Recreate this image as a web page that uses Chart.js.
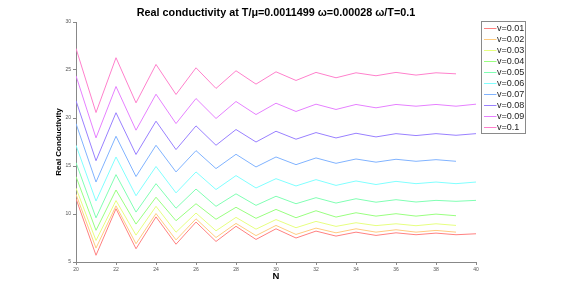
<!DOCTYPE html>
<html>
<head>
<meta charset="utf-8">
<script src="https://cdn.jsdelivr.net/npm/chart.js@4.4.1/dist/chart.umd.min.js"></script>
<style>
  html, body { margin: 0; padding: 0; background: #fff; }
  #wrap { width: 581px; height: 294px; }
</style>
</head>
<body>
<div id="wrap"><canvas id="myChart" width="581" height="294"></canvas></div>
<script>
// N values along x
const nValues = [20,21,22,23,24,25,26,27,28,29,30,31,32,33,34,35,36,37,38,39,40];
const xTicks = [20,22,24,26,28,30,32,34,36,38,40];
const yTicks = [5,10,15,20,25,30];

const seriesLabels = ['v=0.01','v=0.02','v=0.03','v=0.04','v=0.05','v=0.06','v=0.07','v=0.08','v=0.09','v=0.1'];

// values (some series stop at N=39)
const v001 = [11.6,5.7,10.55,6.38,9.7,6.85,9.16,7.14,8.72,7.35,8.46,7.5,8.22,7.7,8.11,7.77,8.04,7.84,8.01,7.84,7.94];
const v002 = [12.05,6.45,10.85,6.9,10.05,7.3,9.5,7.55,9.02,7.75,8.81,7.87,8.53,8.04,8.46,8.11,8.36,8.11,8.29,8.11];
const v003 = [12.7,7.24,11.4,7.8,10.8,8.1,10.1,8.25,9.65,8.42,9.42,8.57,9.23,8.71,9.09,8.79,8.98,8.78,8.98,8.81];
const v004 = [13.9,8.3,12.5,8.95,11.75,9.3,11.07,9.45,10.7,9.55,10.48,9.61,10.34,9.68,10.13,9.78,10.03,9.78,9.99,9.82];
const v005 = [15.35,9.6,14.1,10.2,13.16,10.6,12.6,10.8,12.1,10.9,11.85,11.07,11.7,11.14,11.59,11.23,11.49,11.25,11.42,11.32,11.42];
const v006 = [17.16,11.35,15.94,11.9,14.95,12.2,14.38,12.55,14.0,12.71,13.68,12.92,13.58,12.98,13.44,13.07,13.4,13.16,13.33,13.16,13.33];
const v007 = [19.42,13.33,18.1,13.9,17.16,14.38,16.6,14.73,16.22,14.9,15.94,15.14,15.84,15.28,15.73,15.4,15.7,15.49,15.66,15.49];
const v008 = [21.8,15.55,20.55,16.2,19.67,16.71,19.18,17.16,18.8,17.5,18.62,17.79,18.48,17.92,18.41,18.03,18.37,18.17,18.37,18.2,18.37];
const v009 = [24.4,17.93,23.28,18.73,22.48,19.42,22.03,19.95,21.72,20.36,21.54,20.68,21.44,20.89,21.41,21.06,21.41,21.23,21.41,21.23,21.44];
const v010 = [27.25,20.57,26.28,21.58,25.58,22.45,25.23,23.08,24.92,23.53,24.81,23.91,24.75,24.19,24.71,24.4,24.75,24.47,24.71,24.6];

const allSeries = [v001,v002,v003,v004,v005,v006,v007,v008,v009,v010];
const hues = [0,36,72,108,144,180,216,252,288,324];

const datasets = allSeries.map((vals, i) => ({
  label: seriesLabels[i],
  data: vals.map((y, k) => ({ x: nValues[k], y: y })),
  borderColor: 'hsl(' + hues[i] + ',100%,75%)',
  backgroundColor: 'hsl(' + hues[i] + ',100%,75%)',
  borderWidth: 1,
  pointRadius: 0,
  tension: 0,
  fill: false,
}));

// title, axis titles and legend box
const decorations = {
  id: 'decorations',
  afterDraw(chart) {
    const ctx = chart.ctx;
    const area = chart.chartArea;
    const cx = (area.left + area.right) / 2;
    ctx.save();
    ctx.fillStyle = '#000';
    ctx.textAlign = 'center';
    ctx.textBaseline = 'middle';
    ctx.font = 'bold 10.8px "Liberation Sans", Arial, sans-serif';
    ctx.fillText('Real conductivity at T/\u03bc=0.0011499 \u03c9=0.00028 \u03c9/T=0.1', cx, 13);

    ctx.font = 'bold 9.5px "Liberation Sans", Arial, sans-serif';
    ctx.fillText('N', cx, 276);

    ctx.save();
    ctx.translate(58.5, (area.top + area.bottom) / 2);
    ctx.rotate(-Math.PI / 2);
    ctx.font = 'bold 8px "Liberation Sans", Arial, sans-serif';
    ctx.fillText('Real Conductivity', 0, 0);
    ctx.restore();

    // legend
    const lx = 481.5, ly = 21.5, lw = 44, lh = 112;
    ctx.fillStyle = '#fff';
    ctx.fillRect(lx, ly, lw, lh);
    ctx.strokeStyle = '#8a8a8a';
    ctx.lineWidth = 1;
    ctx.strokeRect(lx, ly, lw, lh);
    ctx.font = '9px "Liberation Sans", Arial, sans-serif';
    ctx.textAlign = 'left';
    chart.data.datasets.forEach((ds, i) => {
      const y = 28.3 + i * 10.93;
      ctx.strokeStyle = ds.borderColor;
      ctx.beginPath();
      ctx.moveTo(484, Math.round(y) + 0.5);
      ctx.lineTo(496.5, Math.round(y) + 0.5);
      ctx.stroke();
      ctx.fillStyle = '#222';
      ctx.fillText(ds.label, 497, y + 0.5);
    });
    ctx.restore();
  }
};

new Chart(document.getElementById('myChart').getContext('2d'), {
  type: 'line',
  data: { datasets: datasets },
  options: {
    responsive: false,
    animation: false,
    layout: { padding: { left: 0, right: 105, top: 22, bottom: 0 } },
    plugins: {
      legend: { display: false },
      title: { display: false },
      tooltip: { enabled: false },
    },
    scales: {
      x: {
        type: 'linear',
        min: 20,
        max: 40,
        afterFit: (scale) => { scale.height = 32; },
        afterBuildTicks: (scale) => { scale.ticks = xTicks.map(v => ({ value: v })); },
        ticks: {
          font: { size: 5, family: '"Liberation Sans", Arial, sans-serif' },
          color: '#555',
          padding: 2,
          maxRotation: 0,
        },
        grid: { drawOnChartArea: false, drawTicks: true, tickLength: 3, color: '#888' },
        border: { color: '#888', width: 1 },
      },
      y: {
        type: 'linear',
        min: 5,
        max: 30,
        afterFit: (scale) => { scale.width = 76; },
        afterBuildTicks: (scale) => { scale.ticks = yTicks.map(v => ({ value: v })); },
        ticks: {
          font: { size: 5, family: '"Liberation Sans", Arial, sans-serif' },
          color: '#555',
          padding: 2,
        },
        grid: { drawOnChartArea: false, drawTicks: true, tickLength: 3, color: '#888' },
        border: { color: '#888', width: 1 },
      },
    },
  },
  plugins: [decorations],
});
</script>
</body>
</html>
